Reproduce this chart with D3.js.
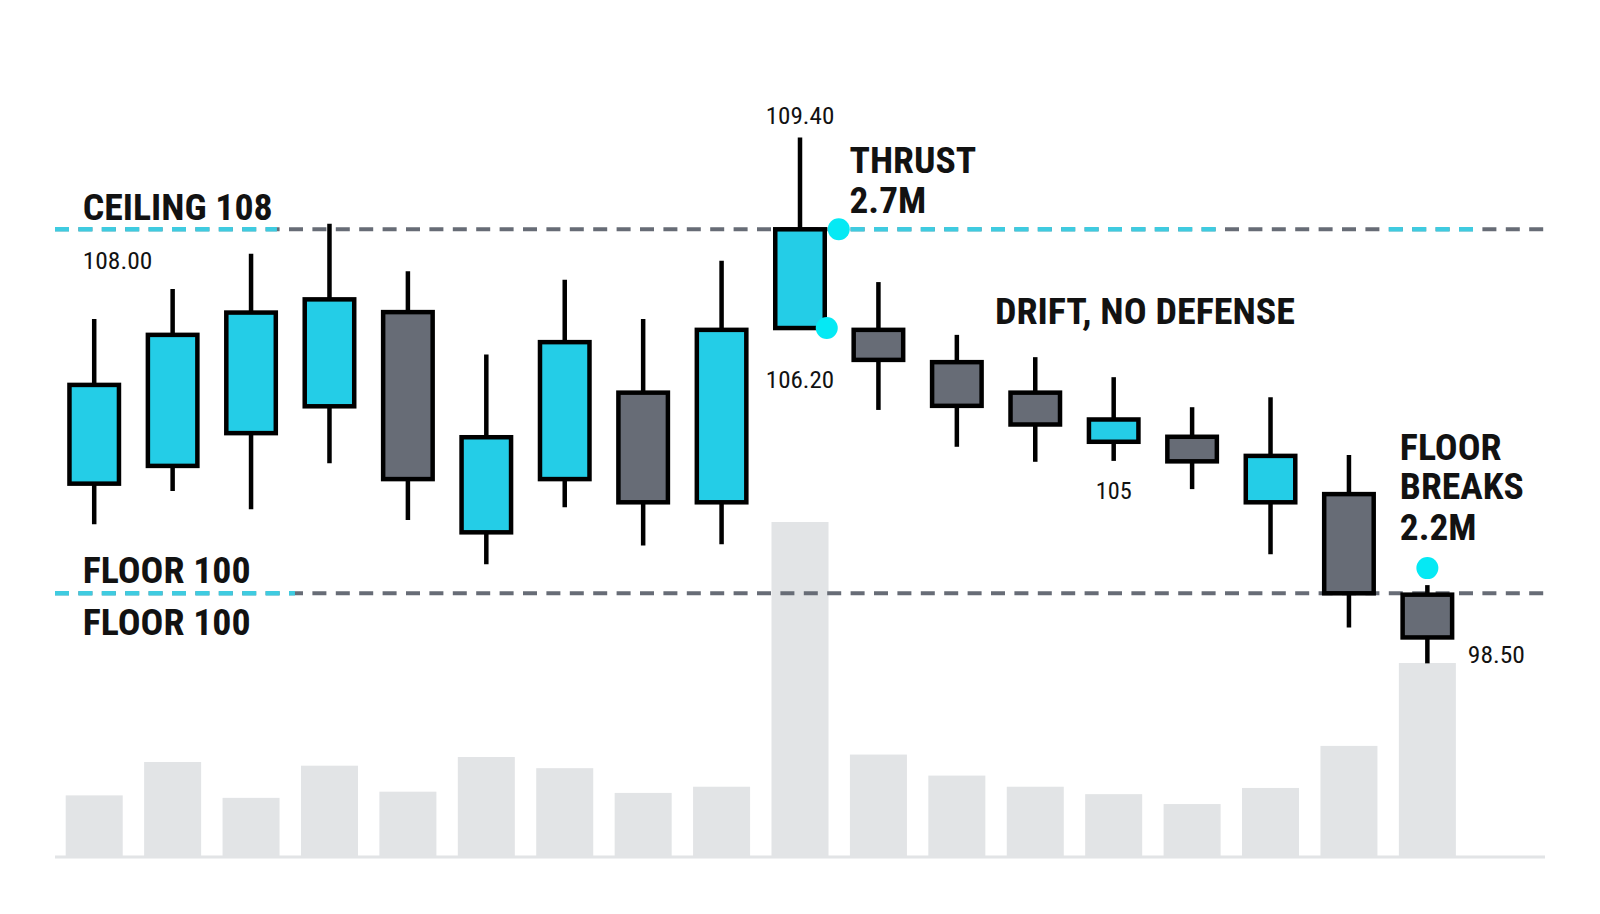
<!DOCTYPE html>
<html>
<head>
<meta charset="utf-8">
<script src="https://cdn.jsdelivr.net/npm/d3@7"></script>
<style>
  body { margin: 0; background: #ffffff; }
  text { font-family: "Roboto Condensed", Roboto, "Noto Sans", sans-serif; }
</style>
</head>
<body>
<div id="mainViewDiv"></div>
<script>

const candleOpen  = [102.41, 102.80, 103.52, 104.11, 106.18, 101.34, 102.51, 104.41, 102.00, 105.83, 105.79, 105.08, 104.41, 103.33, 103.44, 102.00, 102.18, 99.97];
const candleHigh  = [106.03, 106.69, 107.46, 108.12, 107.08, 105.25, 106.89, 106.03, 107.31, 110.02, 106.84, 105.68, 105.19, 104.75, 104.09, 104.31, 103.04, 100.18];
const candleLow   = [101.52, 102.25, 101.85, 102.86, 101.61, 100.64, 101.89, 101.05, 101.08, 105.83, 104.03, 103.22, 102.89, 102.91, 102.29, 100.86, 99.25, 98.46];
const candleClose = [104.58, 105.68, 106.17, 106.46, 102.51, 103.43, 105.52, 102.00, 105.79, 108.00, 105.13, 104.12, 103.71, 103.82, 102.90, 103.02, 100.00, 99.03];
const volumes     = [0.49, 0.76, 0.47, 0.73, 0.52, 0.80, 0.71, 0.51, 0.56, 2.70, 0.82, 0.65, 0.56, 0.50, 0.42, 0.55, 0.89, 1.56];

const ceilingLevel = 108;
const floorLevel = 100;
// parts of the level lines that are highlighted, in candle slots
const ceilingHighlights = [[0, 2.83], [9.99, 14.83], [16.98, 18.13]];
const floorHighlights = [[0, 3.06]];

const thrustIndex = 9;
const breakIndex = 17;
const driftIndex = 13;

const CYAN = "#24cde7";
const GRAY = "#676c76";
const DOT = "#05e9f4";
const INK = "#121212";
const dash = "14,9.4";

let width = 1600, height = 914;

let svg = d3.select("#mainViewDiv").append("svg")
            .attr("width", width)
            .attr("height", height);

let candles = candleOpen.map((o, i) => ({
    i: i, open: o, high: candleHigh[i], low: candleLow[i], close: candleClose[i], vol: volumes[i]
}));

let x = d3.scaleBand()
          .domain(d3.range(candles.length + 1))
          .range([55, 1545])
          .paddingInner(0.273)
          .paddingOuter(0.1365);
let slot = d3.scaleLinear().domain([0, candles.length + 1]).range(x.range());
let cx = i => x(i) + x.bandwidth() / 2;

let y = d3.scaleLinear().domain([floorLevel, ceilingLevel]).range([593.3, 229.3]);
let yVol = d3.scaleLinear().domain([0, d3.max(volumes)]).range([856, 522]);

// volume
svg.append("g").selectAll("rect")
   .data(candles)
   .join("rect")
   .attr("x", d => x(d.i))
   .attr("y", d => yVol(d.vol))
   .attr("width", x.bandwidth())
   .attr("height", d => yVol(0) - yVol(d.vol))
   .attr("fill", "#e2e4e6");

svg.append("line")
   .attr("x1", x.range()[0]).attr("x2", x.range()[1])
   .attr("y1", yVol(0) + 1).attr("y2", yVol(0) + 1)
   .attr("stroke", "#e2e4e6")
   .attr("stroke-width", 3);

// level lines
function levelLine(level, highlights) {
    let g = svg.append("g");
    let x0 = x.range()[0];
    g.append("line")
     .attr("x1", x0).attr("x2", x.range()[1])
     .attr("y1", y(level)).attr("y2", y(level))
     .attr("stroke", GRAY)
     .attr("stroke-width", 4)
     .attr("stroke-dasharray", dash);
    g.selectAll("line.hl")
     .data(highlights)
     .join("line")
     .attr("class", "hl")
     .attr("x1", d => slot(d[0])).attr("x2", d => slot(d[1]))
     .attr("y1", y(level)).attr("y2", y(level))
     .attr("stroke", "#3fcbe0")
     .attr("stroke-width", 4.4)
     .attr("stroke-dasharray", dash)
     .attr("stroke-dashoffset", d => slot(d[0]) - x0);
}
levelLine(ceilingLevel, ceilingHighlights);
levelLine(floorLevel, floorHighlights);

// candles
let bodyW = 49.5;
let cg = svg.append("g").selectAll("g")
            .data(candles)
            .join("g");

cg.append("line")
  .attr("x1", d => cx(d.i)).attr("x2", d => cx(d.i))
  .attr("y1", d => y(d.high)).attr("y2", d => y(d.low))
  .attr("stroke", "#000")
  .attr("stroke-width", 4.5);

cg.append("rect")
  .attr("x", d => cx(d.i) - bodyW / 2)
  .attr("y", d => y(Math.max(d.open, d.close)))
  .attr("width", bodyW)
  .attr("height", d => Math.abs(y(d.open) - y(d.close)))
  .attr("fill", d => d.close > d.open ? CYAN : GRAY)
  .attr("stroke", "#000")
  .attr("stroke-width", 4.5);

// markers
let thrust = candles[thrustIndex];
let brk = candles[breakIndex];
let dots = [
    [cx(thrustIndex) + bodyW / 2 + 14, y(ceilingLevel)],
    [cx(thrustIndex) + bodyW / 2 + 2, y(thrust.open)],
    [cx(breakIndex), y(brk.high) - 17]
];
svg.append("g").selectAll("circle")
   .data(dots)
   .join("circle")
   .attr("cx", d => d[0])
   .attr("cy", d => d[1])
   .attr("r", 11)
   .attr("fill", DOT);

// labels
function label(text, px, py, opts) {
    let t = svg.append("text")
               .attr("x", px)
               .attr("y", py)
               .attr("fill", INK)
               .attr("font-size", opts.size)
               .attr("font-weight", opts.bold ? 700 : 400)
               .attr("text-anchor", opts.anchor || "start")
               .text(text);
    if (opts.len) t.attr("textLength", opts.len).attr("lengthAdjust", "spacingAndGlyphs");
    return t;
}

let left = 82.7;
label("CEILING " + ceilingLevel, left, y(ceilingLevel) - 9.5, {size: 37, bold: true, len: 190});
label(d3.format(".2f")(ceilingLevel), left, y(ceilingLevel) + 39.7, {size: 24, len: 69.6});
label("FLOOR " + floorLevel, left, y(floorLevel) - 10, {size: 37, bold: true, len: 168});
label("FLOOR " + floorLevel, left, y(floorLevel) + 41.7, {size: 37, bold: true, len: 168});

label("109.40", cx(thrustIndex), y(thrust.high) - 13.3, {size: 24, anchor: "middle", len: 68.6});
label("106.20", cx(thrustIndex), y(thrust.open) + 60.3, {size: 24, anchor: "middle", len: 68.3});
label("THRUST", cx(thrustIndex) + 49.5, 173.3, {size: 37, bold: true, len: 126.7});
label("2.7M", cx(thrustIndex) + 49.5, 212.7, {size: 37, bold: true, len: 76.7});

label("DRIFT, NO DEFENSE", 995, 324, {size: 37, bold: true, len: 300});
label("105", cx(driftIndex), y(candles[driftIndex].low) + 38.3, {size: 24, anchor: "middle", len: 36});

label("FLOOR", cx(breakIndex) - 27.5, 460, {size: 37, bold: true, len: 101.7});
label("BREAKS", cx(breakIndex) - 27.5, 499.3, {size: 37, bold: true, len: 124});
label("2.2M", cx(breakIndex) - 27.5, 540, {size: 37, bold: true, len: 76.7});
label("98.50", cx(breakIndex) + 40.5, y(brk.low), {size: 24, len: 57});

</script>
</body>
</html>
